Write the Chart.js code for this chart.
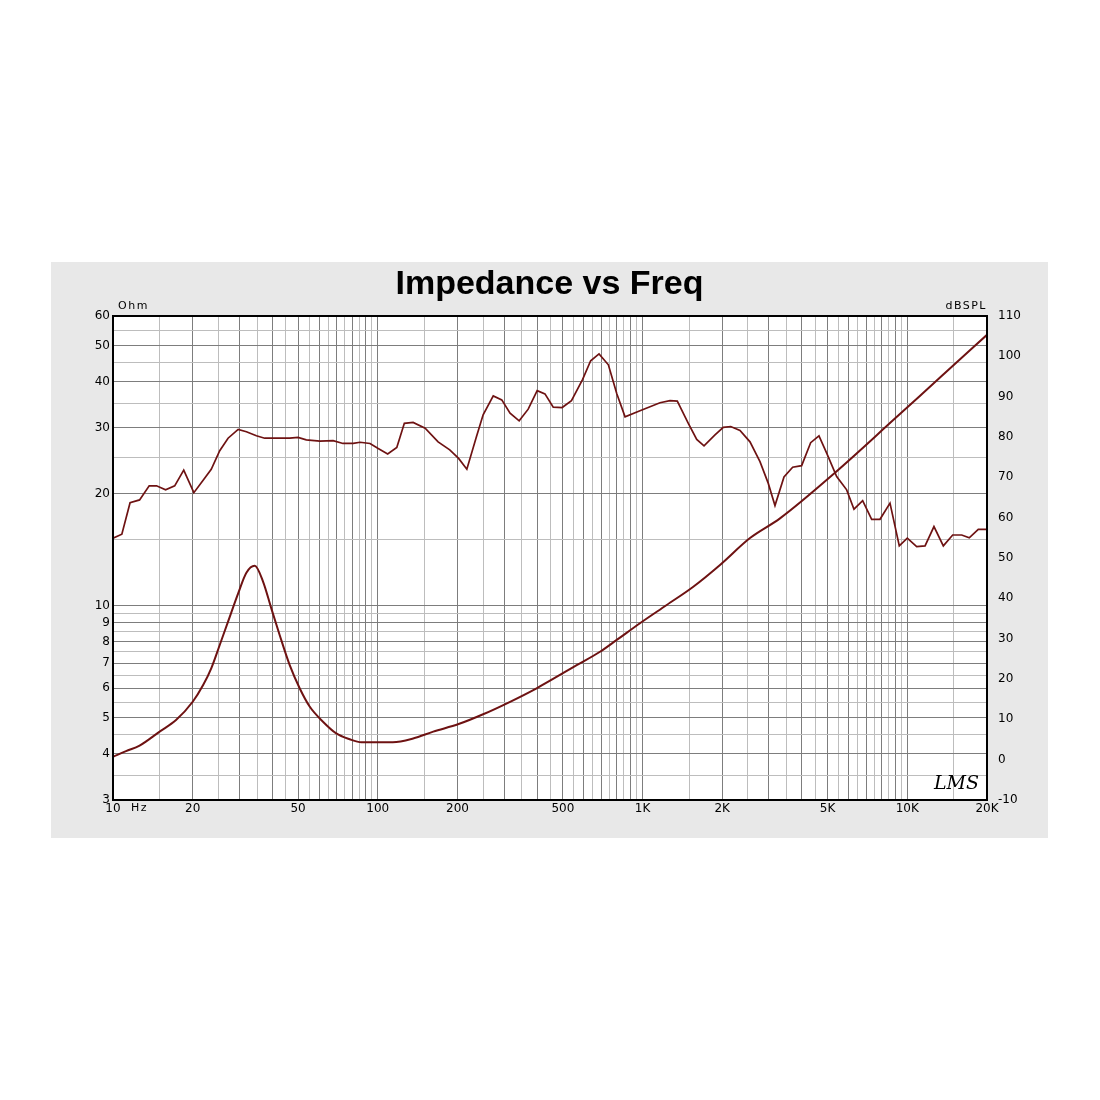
<!DOCTYPE html>
<html>
<head>
<meta charset="utf-8">
<title>Impedance vs Freq</title>
<script src="https://cdn.jsdelivr.net/npm/chart.js@4.4.1/dist/chart.umd.min.js"></script>
<style>
  html, body { margin: 0; padding: 0; background: #fff; }
  #wrap { width: 1100px; height: 1100px; }
</style>
</head>
<body>
<div id="wrap"><canvas id="chart" width="1100" height="1100"></canvas></div>
<script>
// --- Data ---
// SPL curve (right axis, dBSPL)
const splFreq = [10, 10.8, 11.6, 12.6, 13.7, 14.6, 15.8, 17.1, 18.5, 20.2,
  21.9, 23.5, 25.3, 27.2, 29.7, 31.9, 34.8, 37.4, 46.5, 50,
  53.7, 60.4, 67.8, 73.9, 80.8, 85.7, 93.5, 100, 109, 118,
  126, 136, 151, 169, 187, 202, 217, 236, 250, 273,
  294, 316, 342, 370, 400, 428, 460, 497, 539, 594,
  637, 685, 743, 799, 859, 978, 1164, 1270, 1353, 1489,
  1602, 1707, 1878, 2018, 2153, 2334, 2546, 2777, 2985, 3164,
  3422, 3690, 3990, 4315, 4639, 4960, 5411, 5902, 6290, 6783,
  7336, 7886, 8603, 9327, 10000, 10850, 11670, 12610, 13680, 14840,
  16050, 17140, 18540, 20000];
const splDb = [54.9, 55.9, 63.7, 64.4, 67.9, 67.9, 66.9, 67.9, 71.8, 66.2,
  69.3, 72.0, 76.6, 79.7, 81.9, 81.3, 80.3, 79.7, 79.7, 79.9,
  79.3, 79.0, 79.1, 78.4, 78.4, 78.7, 78.4, 77.2, 75.8, 77.4,
  83.4, 83.6, 82.2, 78.8, 76.8, 74.7, 72.0, 80.1, 85.5, 90.2,
  89.2, 85.9, 84.0, 86.9, 91.5, 90.7, 87.4, 87.3, 89.0, 94.3,
  98.9, 100.6, 97.9, 90.8, 85.0, 86.5, 88.5, 89.0, 88.9, 83.4,
  79.4, 77.8, 80.5, 82.4, 82.6, 81.6, 78.8, 73.9, 68.5, 63.0,
  70.1, 72.5, 72.9, 78.6, 80.3, 76.0, 70.2, 66.9, 62.1, 64.2,
  59.6, 59.6, 63.6, 53.0, 54.9, 52.8, 53.0, 57.8, 53.0, 55.7,
  55.7, 55.0, 57.1, 57.1];

// Impedance curve (left axis, Ohm)
const impFreq = [10, 11.2, 12.6, 15, 17.3, 20, 21.9, 23.5, 25.3, 27.2,
  29.7, 31.9, 34.3, 36.9, 39.6, 42.6, 46.5, 50.7, 55.3, 62.1,
  69.7, 78.3, 86.7, 114, 136, 162, 202, 250, 316, 398,
  564, 691, 799, 978, 1234, 1555, 1962, 2546, 3305, 5333,
  8851, 13290, 20000];
const impOhm = [3.92, 4.06, 4.20, 4.58, 4.92, 5.51, 6.11, 6.78, 7.83, 9.05,
  10.78, 12.25, 12.79, 11.58, 9.83, 8.33, 6.91, 5.99, 5.35, 4.87,
  4.53, 4.37, 4.29, 4.29, 4.39, 4.58, 4.80, 5.10, 5.51, 5.99,
  6.91, 7.51, 8.08, 8.96, 10.03, 11.23, 12.85, 15.18, 17.15, 22.75,
  31.5, 41.0, 53.4];

// --- Tick labels ---
const freqLabels = [10, 20, 50, 100, 200, 500, 1000, 2000, 5000, 10000, 20000];
const ohmLabels = [3, 4, 5, 6, 7, 8, 9, 10, 20, 30, 40, 50, 60];
const mantissas = [1, 1.5, 2, 2.5, 3, 3.5, 4, 4.5, 5, 5.5, 6, 6.5, 7, 7.5, 8, 8.5, 9, 9.5];

// grid lines every half step inside each decade
const gridValues = (min, max) => {
  const out = [];
  [1, 10, 100, 1000, 10000].forEach(d => {
    mantissas.forEach(m => {
      const v = m * d;
      if (v >= min && v <= max) out.push(v);
    });
  });
  return out;
};
const isWhole = (v) => {
  const d = Math.pow(10, Math.floor(Math.log10(v) + 1e-9));
  const m = v / d;
  return Math.abs(m - Math.round(m)) < 1e-6;
};
const gridColor = (ctx) => {
  const v = ctx.tick ? ctx.tick.value : 0;
  return isWhole(v) ? '#7d7d7d' : '#bdbdbd';
};
const freqText = (v) => v >= 1000 ? (v / 1000) + 'K' : String(v);

const curveColor = '#6e1212';
const tickFont = { family: '"DejaVu Sans"', size: 12 };

// --- backgrounds, frame and the extra texts ---
const decor = {
  id: 'decor',
  beforeDraw(chart) {
    const { ctx, chartArea: a } = chart;
    ctx.save();
    ctx.fillStyle = '#ffffff';
    ctx.fillRect(0, 0, 1100, 1100);
    ctx.fillStyle = '#e8e8e8';
    ctx.fillRect(51, 262, 997, 576);
    ctx.fillStyle = '#ffffff';
    ctx.fillRect(a.left, a.top, a.right - a.left, a.bottom - a.top);
    ctx.restore();
  },
  afterDraw(chart) {
    const { ctx, chartArea: a } = chart;
    ctx.save();
    ctx.strokeStyle = '#000';
    ctx.lineWidth = 2;
    ctx.strokeRect(a.left, a.top, a.right - a.left, a.bottom - a.top);

    ctx.fillStyle = '#000';
    ctx.font = '11px "DejaVu Sans"';
    ctx.letterSpacing = '1.5px';
    ctx.textBaseline = 'middle';
    ctx.textAlign = 'left';
    ctx.fillText('Ohm', 118, 306);
    ctx.fillText('Hz', 131, 808);
    ctx.textAlign = 'right';
    ctx.fillText('dBSPL', 987, 306);

    ctx.letterSpacing = '0px';
    ctx.font = 'italic 19px "DejaVu Serif"';
    ctx.textAlign = 'left';
    ctx.textBaseline = 'alphabetic';
    ctx.fillText('LMS', 934, 789);
    ctx.restore();
  }
};

new Chart(document.getElementById('chart'), {
  type: 'line',
  data: {
    datasets: [
      {
        label: 'SPL',
        data: splFreq.map((f, i) => ({ x: f, y: splDb[i] })),
        yAxisID: 'yR',
        borderColor: curveColor,
        borderWidth: 1.7,
        pointRadius: 0,
        tension: 0,
        fill: false
      },
      {
        label: 'Impedance',
        data: impFreq.map((f, i) => ({ x: f, y: impOhm[i] })),
        yAxisID: 'y',
        borderColor: curveColor,
        borderWidth: 2,
        pointRadius: 0,
        cubicInterpolationMode: 'monotone',
        fill: false
      }
    ]
  },
  options: {
    responsive: false,
    animation: false,
    events: [],
    layout: { padding: { left: 51, right: 52, top: 250, bottom: 262 } },
    plugins: {
      legend: { display: false },
      tooltip: { enabled: false },
      title: {
        display: true,
        text: 'Impedance vs Freq',
        color: '#000',
        font: { family: '"Liberation Sans"', size: 34, weight: 'bold', lineHeight: 1 },
        padding: { top: 18, bottom: 14 }
      }
    },
    scales: {
      x: {
        type: 'logarithmic',
        min: 10,
        max: 20000,
        afterBuildTicks: s => { s.ticks = gridValues(10, 20000).map(v => ({ value: v })); },
        afterFit: s => { s.height = 38; },
        ticks: {
          autoSkip: false, maxRotation: 0, minRotation: 0, padding: 2,
          color: '#000', font: tickFont,
          callback: v => freqLabels.includes(v) ? freqText(v) : ''
        },
        grid: { drawTicks: false, color: gridColor, lineWidth: 1 },
        border: { display: false }
      },
      y: {
        type: 'logarithmic',
        position: 'left',
        min: 3,
        max: 60,
        afterBuildTicks: s => { s.ticks = gridValues(3, 60).map(v => ({ value: v })); },
        afterFit: s => { s.width = 62; },
        ticks: {
          autoSkip: false, padding: 3, color: '#000', font: tickFont,
          callback: v => ohmLabels.includes(v) ? String(v) : ''
        },
        grid: { drawTicks: false, color: gridColor, lineWidth: 1 },
        border: { display: false }
      },
      yR: {
        type: 'linear',
        position: 'right',
        min: -10,
        max: 110,
        afterFit: s => { s.width = 61; },
        ticks: { stepSize: 10, padding: 3, color: '#000', font: tickFont },
        grid: { display: false },
        border: { display: false }
      }
    }
  },
  plugins: [decor]
});
</script>
</body>
</html>
